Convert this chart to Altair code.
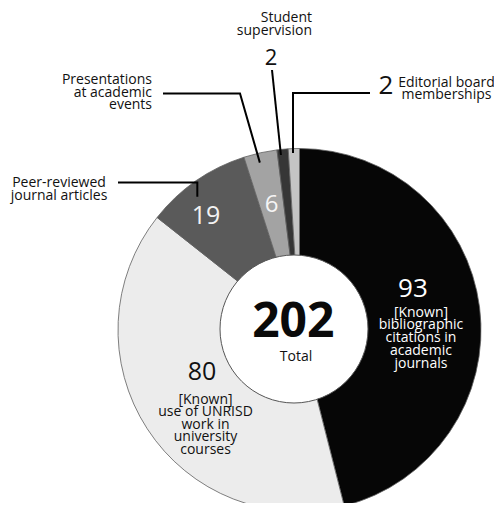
import math
import altair as alt
import pandas as pd

# ---------------- data ----------------
categories = [
    "[Known] bibliographic citations in academic journals",
    "[Known] use of UNRISD work in university courses",
    "Peer-reviewed journal articles",
    "Presentations at academic events",
    "Student supervision",
    "Editorial board memberships",
]
values = [93, 80, 19, 6, 2, 2]
colors = ["#060606", "#ececec", "#5a5a5a", "#a3a3a3", "#363636", "#c4c4c4"]
label_lines = [
    ["[Known]", "bibliographic", "citations in", "academic", "journals"],
    ["[Known]", "use of UNRISD", "work in", "university", "courses"],
    ["Peer-reviewed", "journal articles"],
    ["Presentations", "at academic", "events"],
    ["Student", "supervision"],
    ["Editorial board", "memberships"],
]
total_label = "Total"

# ---------------- layout ----------------
FONT = "Open Sans"
W, H = 486, 495
CX, CY = 291.5, 322.0          # pie centre
R_OUT = 181.5
HOLE_X, HOLE_Y, R_HOLE = 286.0, 321.0, 74.0

total = sum(values)
df = pd.DataFrame({
    "cat": categories,
    "value": values,
    "order": list(range(len(values))),
    "lines": ["|".join(l) for l in label_lines],
})

theta_scale = alt.Scale(domain=[0, total], range=[0, 2 * math.pi])

base = (
    alt.Chart(df)
    .transform_window(cum="sum(value)", sort=[alt.SortField("order")])
    .transform_calculate(
        start="datum.cum - datum.value",
        mid="datum.cum - datum.value / 2",
        label="split(datum.lines, '|')",
    )
)

arcs = base.mark_arc(outerRadius=R_OUT, stroke="#5f5f5f", strokeWidth=0.8).encode(
    theta=alt.Theta("start:Q", scale=theta_scale),
    theta2=alt.Theta2("cum:Q"),
    color=alt.Color("cat:N", scale=alt.Scale(domain=categories, range=colors), legend=None),
    x=alt.value(CX),
    y=alt.value(CY),
)

hole = alt.Chart(pd.DataFrame({"a": [1]})).mark_arc(
    theta=0, theta2=2 * math.pi, outerRadius=R_HOLE, fill="white", stroke="#555555", strokeWidth=1
).encode(x=alt.value(HOLE_X), y=alt.value(HOLE_Y))


def slice_text(i, field, radius, dx, dy, size, color, lh=12.5):
    return base.transform_filter(alt.datum.cat == categories[i]).mark_text(
        radius=radius, dx=dx, dy=dy, fontSize=size, font=FONT, color=color,
        align="center", baseline="alphabetic", lineHeight=lh,
    ).encode(
        theta=alt.Theta("mid:Q", scale=theta_scale),
        text=alt.Text(field),
        x=alt.value(CX),
        y=alt.value(CY),
    )


def fixed_text(i, field, x, y, size, align="center", lh=12.6, color="#111111"):
    return base.transform_filter(alt.datum.cat == categories[i]).mark_text(
        fontSize=size, font=FONT, color=color, align=align,
        baseline="alphabetic", lineHeight=lh,
    ).encode(text=alt.Text(field), x=alt.value(x), y=alt.value(y))


texts = [
    slice_text(0, "value:Q", 120, -5.6, -18.1, 26, "white"),
    slice_text(0, "label:N", 120, 2.4, 1.4, 14, "white", 12.9),
    slice_text(1, "value:Q", 120, 3.2, -15.3, 25, "#111111"),
    slice_text(1, "label:N", 120, 6.7, 8.2, 14, "#111111", 12.5),
    slice_text(2, "value:Q", 150, -8, 17.3, 25, "#f2f2f2"),
    slice_text(3, "value:Q", 130, 0.1, 8.9, 24, "#f5f5f5"),
    fixed_text(2, "label:N", 51, 179, 14, "center", 12.5),
    fixed_text(3, "label:N", 144, 76, 14, "right", 12.5),
    fixed_text(4, "label:N", 304, 14.3, 14, "right", 12.7),
    fixed_text(5, "label:N", 438.5, 78.7, 14, "center", 12.7),
    fixed_text(4, "value:Q", 263, 57, 22),
    fixed_text(5, "value:Q", 378, 85.5, 26),
]

centre = [
    alt.Chart(df).transform_aggregate(total="sum(value)").mark_text(
        font=FONT, fontSize=48, fontWeight="bold", color="#0a0a0a",
        align="center", baseline="alphabetic",
    ).encode(text=alt.Text("total:Q"), x=alt.value(285.3), y=alt.value(329)),
    alt.Chart(df).transform_aggregate(total="sum(value)").mark_text(
        text=total_label, font=FONT, fontSize=14, color="#111111",
        align="center", baseline="alphabetic",
    ).encode(x=alt.value(288), y=alt.value(353)),
]

# ---------------- leader lines (anchored to slices) ----------------
starts = []
acc = 0
for v in values:
    starts.append(acc)
    acc += v


def anchor(i, frac, r):
    a = (starts[i] + frac * values[i]) / total * 2 * math.pi
    return CX + r * math.sin(a), CY - r * math.cos(a)


rows = []


def add_leader(name, pts):
    for k, (px, py) in enumerate(pts):
        rows.append({"id": name, "k": k, "px": px, "py": py})


a2 = anchor(2, 0.42, 168)
add_leader("peer", [(110, 174.5), (a2[0], 174.5), a2])
a3 = anchor(3, 0.42, 172)
add_leader("pres", [(155, 85.5), (232, 85.5), a3])
a4 = anchor(4, 0.3, 176)
add_leader("stud", [(264, 62), a4])
a5 = anchor(5, 0.41, 177)
add_leader("edit", [(362, 85), (a5[0], 85), a5])

leaders = alt.Chart(pd.DataFrame(rows)).mark_line(color="#000000", strokeWidth=2).encode(
    x=alt.X("px:Q", scale=None, axis=None),
    y=alt.Y("py:Q", scale=None, axis=None),
    detail="id:N",
    order="k:Q",
)

chart = alt.layer(arcs, hole, *centre, *texts, leaders).properties(
    width=W, height=H, padding=0, autosize="none"
).configure_view(strokeWidth=0)

chart.save("out.html", embed_options={"renderer": "svg", "actions": False})
